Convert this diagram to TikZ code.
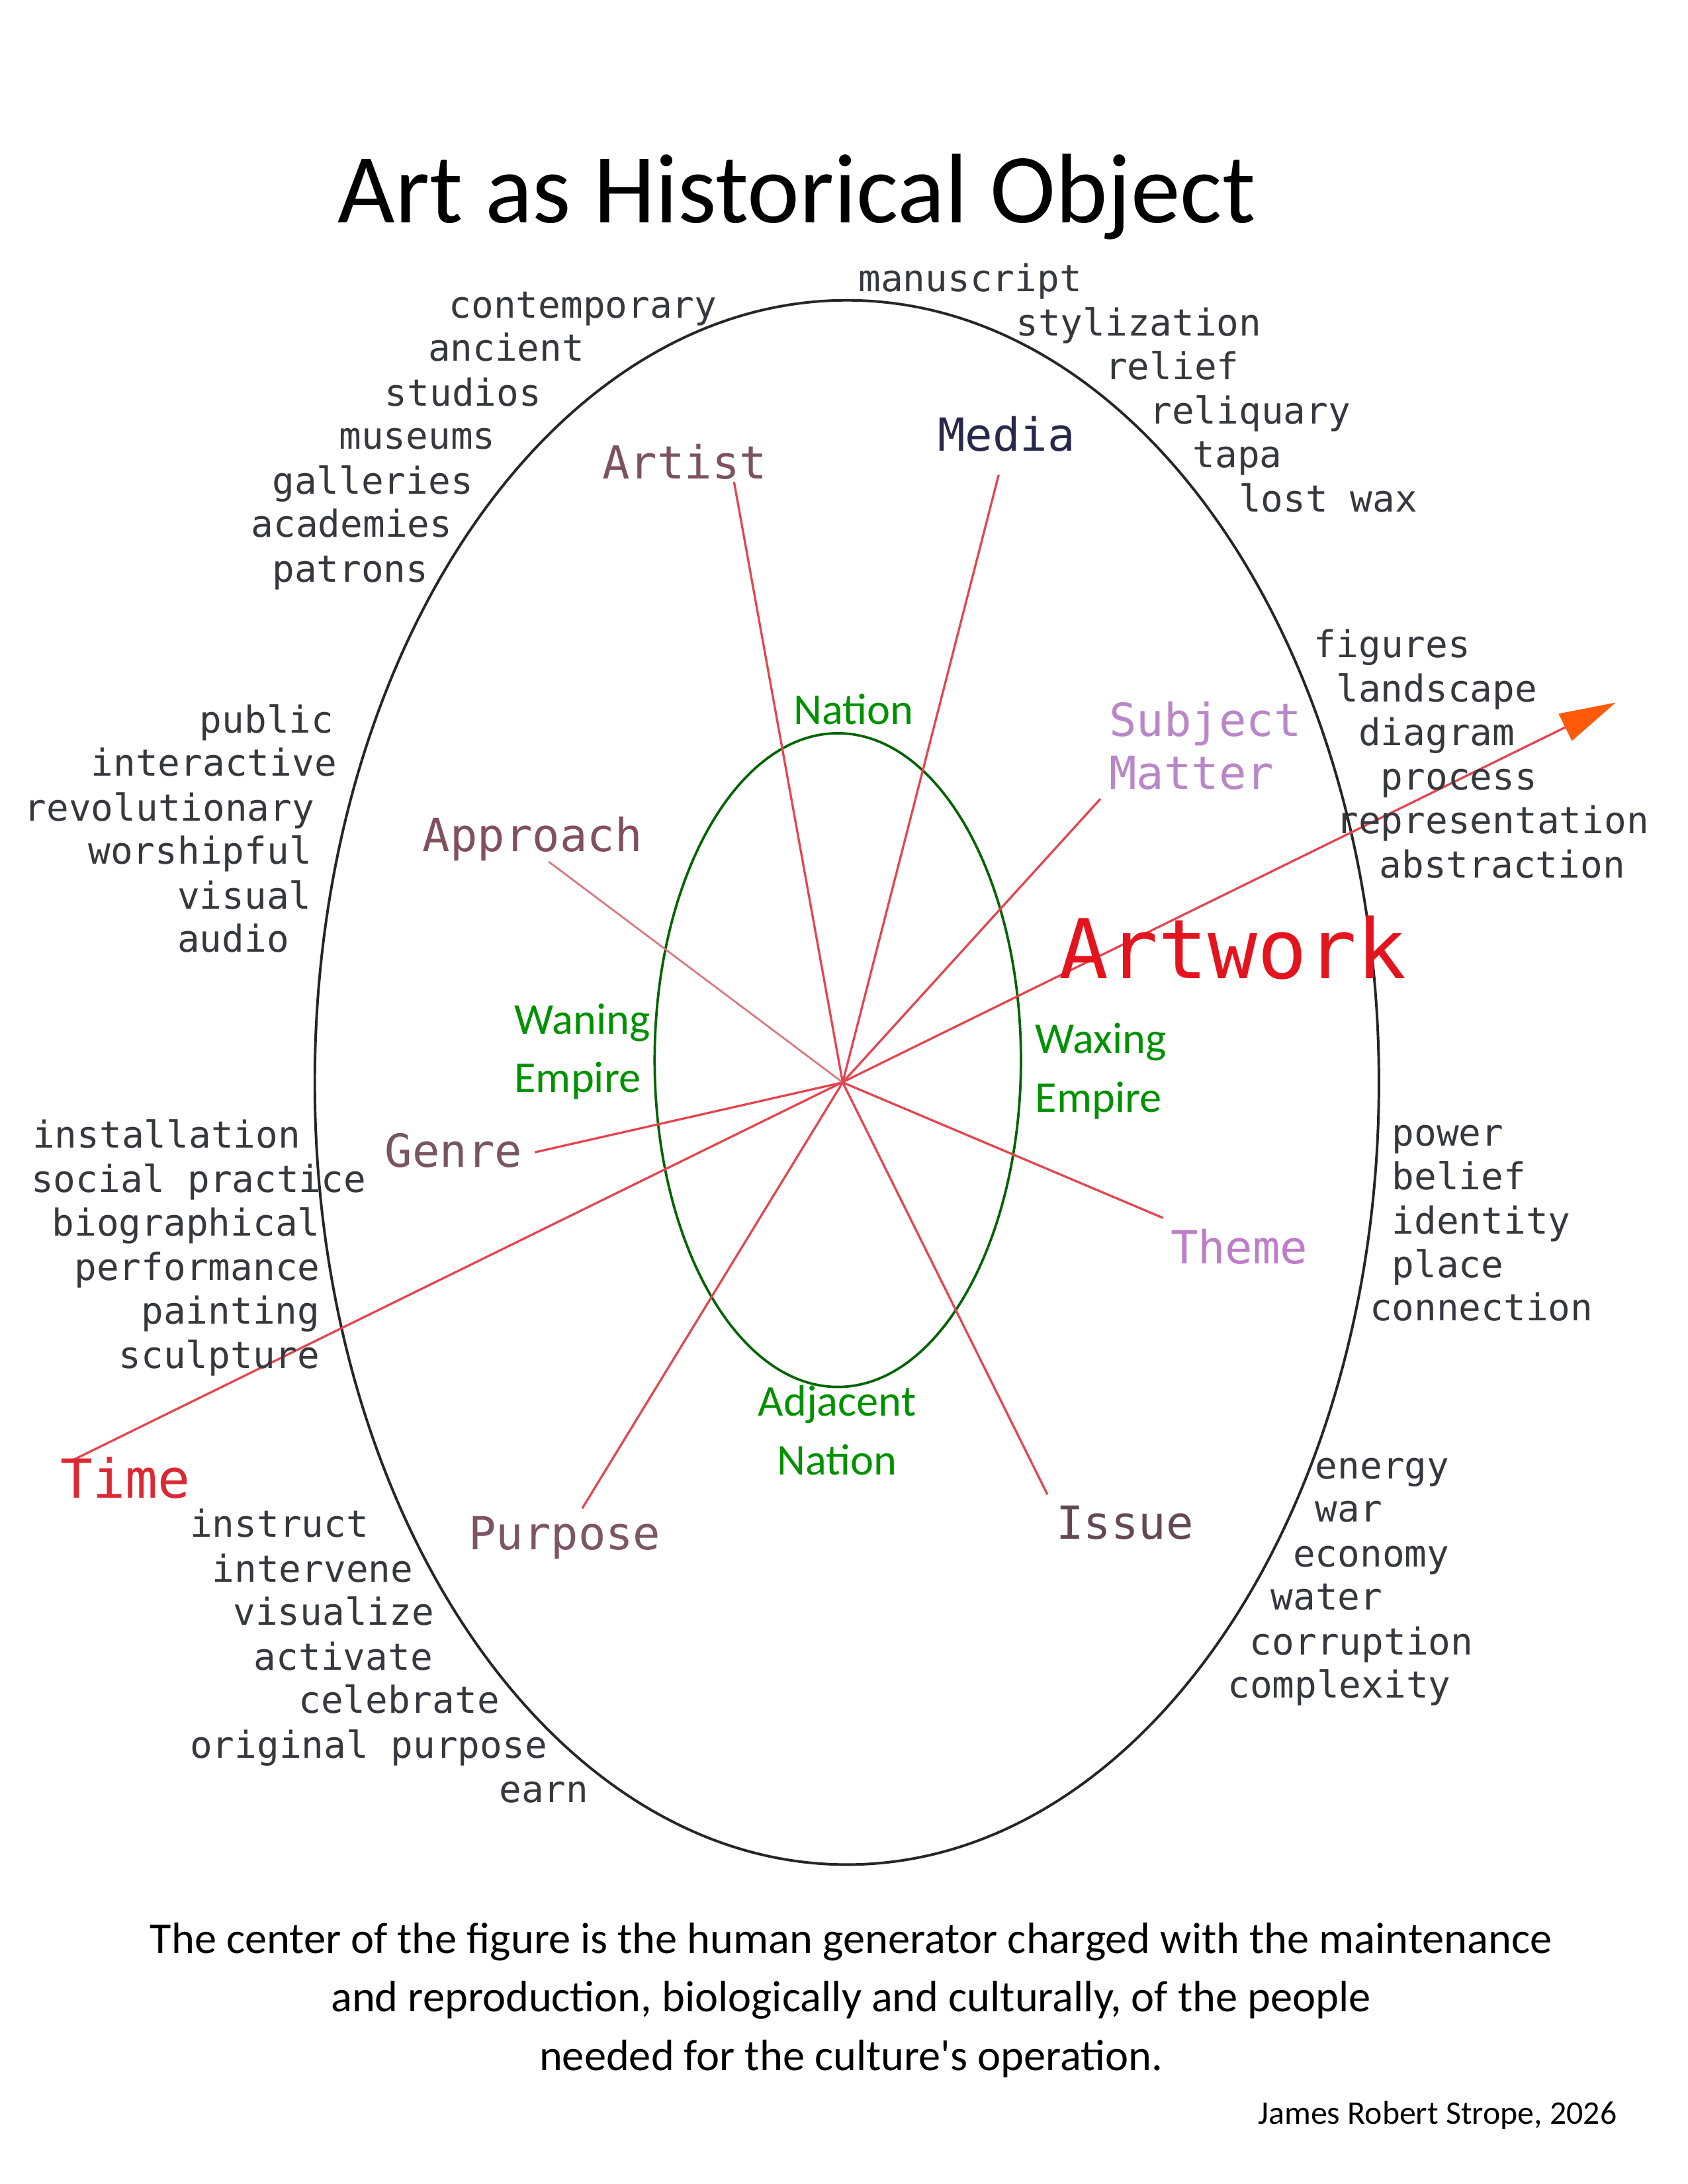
\documentclass[tikz,border=0pt]{standalone}
\usepackage{fontspec}
\setmainfont{Carlito}
\newfontfamily\monof{DejaVu Sans Mono}
\usetikzlibrary{arrows.meta}
\definecolor{wordgray}{RGB}{55,55,62}
\definecolor{spokered}{RGB}{226,70,80}
\definecolor{lightspoke}{RGB}{214,125,135}
\definecolor{grntext}{RGB}{0,145,0}
\definecolor{grnline}{RGB}{0,100,0}
\definecolor{arrowor}{RGB}{255,90,10}
\definecolor{cArtist}{RGB}{125,82,95}
\definecolor{cMedia}{RGB}{40,40,75}
\definecolor{cApproach}{RGB}{130,80,92}
\definecolor{cSubject}{RGB}{185,135,200}
\definecolor{cGenre}{RGB}{120,85,98}
\definecolor{cTheme}{RGB}{190,125,200}
\definecolor{cPurpose}{RGB}{125,85,100}
\definecolor{cIssue}{RGB}{100,72,85}
\definecolor{cTime}{RGB}{220,40,50}
\definecolor{cArtwork}{RGB}{228,20,30}
\tikzset{
  word/.style={font=\monof\fontsize{13.5}{15}\selectfont, text=wordgray, anchor=mid west, inner sep=0pt},
  lab/.style={font=\monof\fontsize{16.6}{19.3}\selectfont, anchor=mid west, inner sep=0pt},
  grn/.style={font=\fontsize{16}{21.3}\selectfont, text=grntext, inner sep=0pt},
  spoke/.style={draw=spokered, line width=0.8pt},
}
\begin{document}
\begin{tikzpicture}[x=0.017815cm, y=-0.017868cm]
\useasboundingbox (0,0) rectangle (1211.9,1563.7);
% title
\node[font=\fontsize{36}{40}\selectfont, inner sep=0pt] (title) at (572,141) {Art as Historical Object};
% ellipses
\draw[line width=0.95pt, black!85] (608,775) ellipse [x radius=382, y radius=560];
\draw[line width=0.9pt, grnline] (601.5,759) ellipse [x radius=131.5, y radius=234];
% centre
\coordinate (c) at (605,775);
% spoke ends
\coordinate (eArtist) at (527,345);
\coordinate (eMedia) at (717,340);
\coordinate (eSubject) at (790,572);
\coordinate (eApproach) at (394,617);
\coordinate (eGenre) at (384,825);
\coordinate (eTheme) at (835,872);
\coordinate (eIssue) at (752,1070);
\coordinate (ePurpose) at (418,1080);
\coordinate (eTime) at (49,1047);
\coordinate (eTip) at (1160,503);
% spokes
\draw[spoke] (c) -- (eArtist);
\draw[spoke] (c) -- (eMedia);
\draw[spoke] (c) -- (eSubject);
\draw[draw=lightspoke, line width=0.7pt] (c) -- (eApproach);
\draw[spoke] (c) -- (eGenre);
\draw[spoke] (c) -- (eTheme);
\draw[spoke] (c) -- (eIssue);
\draw[spoke] (c) -- (ePurpose);
\draw[spoke, -{Triangle[length=0.72cm, width=0.38cm, fill=arrowor, color=arrowor]}] (eTime) -- (eTip);
% labels
\node[lab, text=cArtist] (artist) at (432,338) {Artist};
\node[lab, text=cMedia] (media) at (673,318) {Media};
\node[lab, text=cSubject, align=left, anchor=west] (subject) at (796,534) {Subject\\Matter};
\node[lab, text=cApproach] (approach) at (303,605) {Approach};
\node[lab, text=cGenre] (genre) at (276,831) {Genre};
\node[lab, text=cTheme] (theme) at (840,900) {Theme};
\node[lab, text=cIssue] (issue) at (758,1097) {Issue};
\node[lab, text=cPurpose] (purpose) at (336,1105) {Purpose};
\node[lab, text=cTime, font=\monof\fontsize{19.6}{22}\selectfont] (time) at (43,1068) {Time};
\node[lab, text=cArtwork, font=\monof\fontsize{30}{32}\selectfont] (artwork) at (760,696) {Artwork};
% green labels
\node[grn] (nation) at (613,508) {Nation};
\node[grn, align=left, anchor=west] (waning) at (369,753) {Waning\\Empire};
\node[grn, align=left, anchor=west] (waxing) at (743,767) {Waxing\\Empire};
\node[grn, align=center] (adjacent) at (601,1024) {Adjacent\\Nation};
% word lists
\foreach \n/\x/\y/\t in {
  a1/322/223/contemporary, a2/307/254/ancient, a3/276/286/studios, a4/243/317/museums,
  a5/195/349/galleries, a6/180/380/academies, a7/195/412/patrons,
  b1/616/204/manuscript, b2/729/236/stylization, b3/793/267/relief, b4/825/299/reliquary,
  b5/856/330/tapa, b6/889/362/lost wax,
  d1/943/466/figures, d2/959/498/landscape, d3/975/529/diagram, d4/991/561/process,
  d5/959/592/representation, d6/990/624/abstraction,
  e1/143/520/public, e2/65/551/interactive, e3/17/583/revolutionary, e4/63/614/worshipful,
  e5/127/646/visual, e6/127/677/audio,
  f1/23/817/installation, f2/22/849/social practice, f3/37/880/biographical,
  f4/53/912/performance, f5/101/943/painting, f6/85/975/sculpture,
  g1/999/816/power, g2/999/847/belief, g3/999/879/identity, g4/999/910/place, g5/983/941/connection,
  h1/136/1096/instruct, h2/152/1128/intervene, h3/167/1159/visualize, h4/182/1191/activate,
  h5/214/1222/celebrate, h6/136/1254/original purpose, h7/358/1286/earn,
  k1/944/1054/energy, k2/944/1085/war, k3/928/1117/economy, k4/912/1148/water,
  k5/897/1180/corruption, k6/881/1211/complexity}
  \node[word] (w\n) at (\x,\y) {\t};
% caption
\node[font=\fontsize{16}{21.3}\selectfont, align=center, inner sep=0pt] (caption) at (611,1432)
  {The center of the figure is the human generator charged with the maintenance\\
   and reproduction, biologically and culturally, of the people\\
   needed for the culture\textquotesingle s operation.};
\node[font=\fontsize{12}{14}\selectfont, anchor=mid west, inner sep=0pt] (sig) at (903,1516) {James Robert Strope, 2026};
\end{tikzpicture}
\end{document}
